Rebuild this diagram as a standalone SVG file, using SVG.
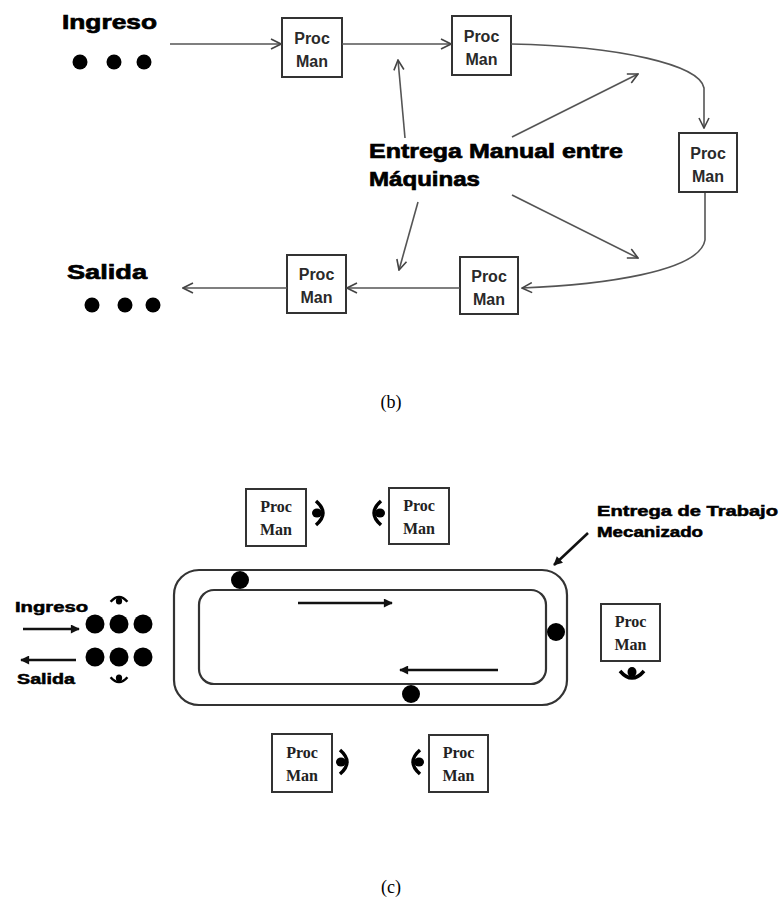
<svg xmlns="http://www.w3.org/2000/svg" width="783" height="918" viewBox="0 0 783 918">
<style>
.box{fill:#fff;stroke:#333;stroke-width:2}
.pm{font-family:"Liberation Sans",Arial,sans-serif;font-weight:bold;font-size:16px;fill:#2a2a2a;text-anchor:middle}
.pmc{font-family:"Liberation Serif","Times New Roman",serif;font-weight:bold;font-size:16px;fill:#222;text-anchor:middle}
.lbl{font-family:"Liberation Sans",Arial,sans-serif;font-weight:bold;fill:#000;stroke:#000;stroke-width:0.7}
.cap{font-family:"Liberation Serif","Times New Roman",serif;font-size:18px;fill:#000;text-anchor:middle}
.con{fill:none;stroke:#555;stroke-width:1.6}
.track{fill:none;stroke:#333;stroke-width:2.2}
.thick{fill:none;stroke:#111;stroke-width:2.6}
.dot{fill:#000}
</style>
<defs>
<marker id="open" viewBox="0 0 12 12" refX="11" refY="6" markerWidth="12" markerHeight="12" markerUnits="userSpaceOnUse" orient="auto">
<path d="M1,1 L11,6 L1,11" fill="none" stroke="#444" stroke-width="1.6"/>
</marker>
<marker id="solid" viewBox="0 0 10 10" refX="9" refY="5" markerWidth="10" markerHeight="9" markerUnits="userSpaceOnUse" orient="auto">
<path d="M0,0 L10,5 L0,10 Z" fill="#111"/>
</marker>
<g id="op">
<path d="M4,-12 Q-10,0 4,12" fill="none" stroke="#000" stroke-width="3.5"/>
<ellipse cx="3" cy="0" rx="5" ry="4.5" fill="#000"/>
</g>
</defs>

<!-- (b) -->
<g id="b-labels">
<text class="lbl" x="62" y="29" font-size="21" textLength="95" lengthAdjust="spacingAndGlyphs">Ingreso</text>
<circle class="dot" cx="80" cy="62" r="7.5"/>
<circle class="dot" cx="114" cy="62" r="7.5"/>
<circle class="dot" cx="144" cy="62" r="7.5"/>
<text class="lbl" x="67" y="279" font-size="21" textLength="80" lengthAdjust="spacingAndGlyphs">Salida</text>
<circle class="dot" cx="92" cy="305" r="7.5"/>
<circle class="dot" cx="125" cy="305" r="7.5"/>
<circle class="dot" cx="153" cy="305" r="7.5"/>
<text class="lbl" x="369" y="158" font-size="21" textLength="254" lengthAdjust="spacingAndGlyphs">Entrega Manual entre</text>
<text class="lbl" x="369" y="186" font-size="21" textLength="111" lengthAdjust="spacingAndGlyphs">Máquinas</text>
</g>
<g id="b-box1"><rect class="box" x="282" y="18" width="60" height="59"/><text class="pm" x="312" y="44">Proc</text><text class="pm" x="312" y="67">Man</text></g>
<g id="b-box2"><rect class="box" x="452" y="16" width="59" height="59"/><text class="pm" x="481.5" y="42">Proc</text><text class="pm" x="481.5" y="65">Man</text></g>
<g id="b-box3"><rect class="box" x="679" y="133" width="58" height="59"/><text class="pm" x="708" y="159">Proc</text><text class="pm" x="708" y="182">Man</text></g>
<g id="b-box4"><rect class="box" x="460" y="257" width="58" height="57"/><text class="pm" x="489" y="282">Proc</text><text class="pm" x="489" y="305">Man</text></g>
<g id="b-box5"><rect class="box" x="287" y="255" width="59" height="58"/><text class="pm" x="316.5" y="280">Proc</text><text class="pm" x="316.5" y="303">Man</text></g>
<g id="b-connectors">
<line class="con" x1="170" y1="44" x2="281" y2="44" marker-end="url(#open)"/>
<line class="con" x1="342" y1="44" x2="451" y2="44" marker-end="url(#open)"/>
<path class="con" d="M511,44 C620,46 700,65 704,88 L704,128" marker-end="url(#open)"/>
<path class="con" d="M705,193 L705,240 C700,272 600,285 522,288" marker-end="url(#open)"/>
<line class="con" x1="460" y1="288" x2="347" y2="288" marker-end="url(#open)"/>
<line class="con" x1="287" y1="288" x2="183" y2="288" marker-end="url(#open)"/>
<line class="con" x1="405" y1="138" x2="398" y2="60" marker-end="url(#open)"/>
<line class="con" x1="512" y1="137" x2="638" y2="74" marker-end="url(#open)"/>
<line class="con" x1="512" y1="195" x2="638" y2="258" marker-end="url(#open)"/>
<line class="con" x1="418" y1="202" x2="399" y2="270" marker-end="url(#open)"/>
</g>
<text class="cap" x="391" y="408">(b)</text>

<!-- (c) -->
<g id="c-loop">
<rect class="track" x="174" y="570" width="393" height="135" rx="25"/>
<rect class="track" x="199" y="590" width="347" height="94" rx="15"/>
<circle class="dot" cx="240" cy="580" r="9"/>
<circle class="dot" cx="556" cy="632" r="9"/>
<circle class="dot" cx="411" cy="694" r="9"/>
</g>
<g id="c-boxA"><rect class="box" x="246" y="489" width="60" height="57"/><text class="pmc" x="276" y="512">Proc</text><text class="pmc" x="276" y="535">Man</text><use href="#op" transform="translate(320,513) scale(-1,1)"/></g>
<g id="c-boxB"><rect class="box" x="389" y="488" width="60" height="56"/><text class="pmc" x="419" y="511">Proc</text><text class="pmc" x="419" y="534">Man</text><use href="#op" transform="translate(377,513)"/></g>
<g id="c-boxR"><rect class="box" x="601" y="604" width="59" height="57"/><text class="pmc" x="630.5" y="627">Proc</text><text class="pmc" x="630.5" y="650">Man</text><use href="#op" transform="translate(632,675) rotate(-90)"/></g>
<g id="c-boxC"><rect class="box" x="272" y="734" width="60" height="58"/><text class="pmc" x="302" y="758">Proc</text><text class="pmc" x="302" y="781">Man</text><use href="#op" transform="translate(344,762) scale(-1,1)"/></g>
<g id="c-boxD"><rect class="box" x="429" y="735" width="59" height="57"/><text class="pmc" x="458.5" y="758">Proc</text><text class="pmc" x="458.5" y="781">Man</text><use href="#op" transform="translate(416,762)"/></g>
<g id="c-io">
<text class="lbl" x="15" y="612" font-size="14" textLength="73" lengthAdjust="spacingAndGlyphs" style="stroke-width:0.5">Ingreso</text>
<text class="lbl" x="17" y="684" font-size="14" textLength="58" lengthAdjust="spacingAndGlyphs" style="stroke-width:0.5">Salida</text>
<circle class="dot" cx="95" cy="624" r="9.5"/>
<circle class="dot" cx="119" cy="624" r="9.5"/>
<circle class="dot" cx="143" cy="624" r="9.5"/>
<circle class="dot" cx="95" cy="657" r="9.5"/>
<circle class="dot" cx="119" cy="657" r="9.5"/>
<circle class="dot" cx="143" cy="657" r="9.5"/>
<use href="#op" transform="translate(119,599) rotate(90) scale(0.7)"/>
<use href="#op" transform="translate(119,680) rotate(-90) scale(0.7)"/>
</g>
<g id="c-label">
<text class="lbl" x="597" y="516" font-size="14" textLength="181" lengthAdjust="spacingAndGlyphs" style="stroke-width:0.5">Entrega de Trabajo</text>
<text class="lbl" x="597" y="537" font-size="14" textLength="106" lengthAdjust="spacingAndGlyphs" style="stroke-width:0.5">Mecanizado</text>
</g>
<g id="c-connectors">
<line class="thick" x1="298" y1="603" x2="392" y2="603" marker-end="url(#solid)"/>
<line class="thick" x1="498" y1="670" x2="400" y2="670" marker-end="url(#solid)"/>
<line class="thick" x1="23" y1="629" x2="79" y2="629" marker-end="url(#solid)"/>
<line class="thick" x1="76" y1="660" x2="21" y2="660" marker-end="url(#solid)"/>
<line class="thick" x1="588" y1="533" x2="554" y2="565" marker-end="url(#solid)"/>
</g>
<text class="cap" x="391" y="893">(c)</text>
</svg>
